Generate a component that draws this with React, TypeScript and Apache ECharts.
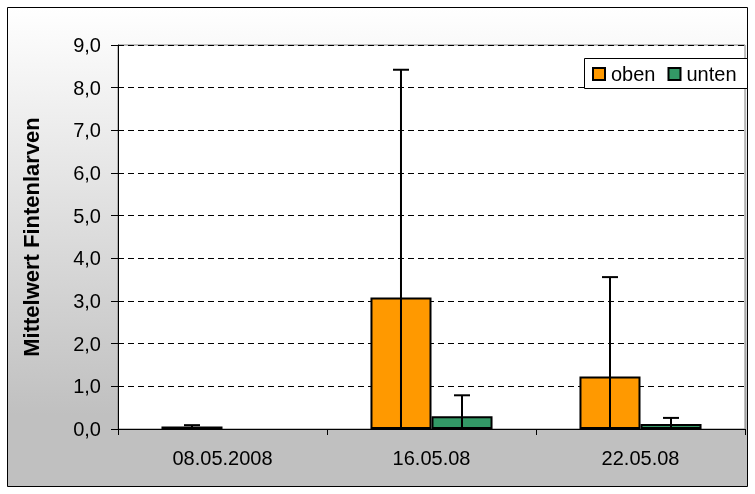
import React, { useEffect, useRef } from "react";
import * as echarts from "echarts";

const categories = ["08.05.2008", "16.05.08", "22.05.08"];
const seriesNames = ["oben", "unten"];
const obenMean = [0.06, 3.08, 1.23];
const obenErr = [0.03, 5.34, 2.33];
const untenMean = [0, 0.3, 0.12];
const untenErr = [0, 0.49, 0.14];
const yTicks = { min: 0, max: 9, interval: 1 };
const yTitle = "Mittelwert Fintenlarven";

const FONT = "'Liberation Sans', Arial, sans-serif";
const GAP = 0.416;

function errData(mean: number[], err: number[]) {
  return mean.map((m, i) => [i, m, err[i]]);
}

function barData(mean: number[]) {
  return mean.map((m) => (m > 0 ? m : null));
}

function makeErrRender(side: number) {
  return (params: any, api: any) => {
    const idx = api.value(0);
    const v = api.value(1);
    const e = api.value(2);
    if (!(e > 0)) return null;
    const band = api.size([1, 0])[0];
    const barW = (band * (1 - GAP)) / 2;
    const cx = api.coord([idx, v])[0] + (side * barW) / 2;
    const yTop = api.coord([idx, v + e])[1];
    const yBot = api.coord([idx, Math.max(0, v - e)])[1];
    const style = { stroke: "#000", lineWidth: 2 };
    return {
      type: "group",
      children: [
        { type: "line", shape: { x1: cx, y1: yTop, x2: cx, y2: yBot }, style },
        { type: "line", shape: { x1: cx - 8, y1: yTop, x2: cx + 8, y2: yTop }, style },
      ],
    };
  };
}

export default function App() {
  const ref = useRef<HTMLDivElement>(null);
  useEffect(() => {
    if (!ref.current) return;
    const chart = echarts.init(ref.current, undefined, { renderer: "svg" });
    chart.setOption({
      animation: false,
      textStyle: { fontFamily: FONT },
      graphic: [
        {
          type: "rect",
          z: -10,
          shape: { x: 7.5, y: 7.5, width: 740, height: 479 },
          style: {
            fill: new echarts.graphic.LinearGradient(0, 0, 0, 1, [
              { offset: 0, color: "#ffffff" },
              { offset: 0.85, color: "#c0c0c0" },
              { offset: 1, color: "#c0c0c0" },
            ]),
            stroke: "#000",
            lineWidth: 1,
          },
        },
        {
          type: "rect",
          z: 10,
          shape: { x: 584.5, y: 58.5, width: 163, height: 30 },
          style: { fill: "#fff", stroke: "#000", lineWidth: 1 },
        },
        {
          type: "text",
          z: 10,
          x: 31,
          y: 237,
          rotation: Math.PI / 2,
          style: {
            text: yTitle,
            fontFamily: FONT,
            fontWeight: "bold",
            fontSize: 22,
            fill: "#000",
            align: "center",
            verticalAlign: "middle",
          },
        },
      ],
      legend: {
        z: 20,
        left: 592,
        top: 64,
        padding: 0,
        itemWidth: 12,
        itemHeight: 12,
        itemGap: 12,
        icon: "rect",
        data: seriesNames,
        textStyle: { fontFamily: FONT, fontSize: 20, color: "#000", padding: [0, 0, 0, 1] },
        selectedMode: false,
      },
      grid: {
        left: 118,
        right: 10,
        top: 45,
        bottom: 65,
        show: true,
        backgroundColor: "#fff",
        borderColor: "#808080",
        borderWidth: 1,
      },
      xAxis: {
        type: "category",
        data: categories,
        boundaryGap: true,
        axisLine: { lineStyle: { color: "#000", width: 1 } },
        axisTick: { show: true, alignWithLabel: false, length: 6, lineStyle: { color: "#000" } },
        axisLabel: { fontFamily: FONT, fontSize: 20, color: "#000", margin: 19 },
        splitLine: { show: false },
      },
      yAxis: {
        type: "value",
        min: yTicks.min,
        max: yTicks.max,
        interval: yTicks.interval,
        axisLine: { show: true, lineStyle: { color: "#000", width: 1 } },
        axisTick: { show: true, length: 7, lineStyle: { color: "#000" } },
        axisLabel: {
          fontFamily: FONT,
          fontSize: 20,
          color: "#000",
          margin: 17,
          formatter: (v: number) => v.toFixed(1).replace(".", ","),
        },
        splitLine: { show: true, lineStyle: { color: "#000", type: [6, 4], width: 1 } },
      },
      series: [
        {
          name: seriesNames[0],
          type: "bar",
          data: barData(obenMean),
          barGap: "0%",
          barCategoryGap: GAP * 100 + "%",
          itemStyle: { color: "#FF9900", borderColor: "#000", borderWidth: 2 },
          z: 2,
        },
        {
          name: seriesNames[1],
          type: "bar",
          data: barData(untenMean),
          barGap: "0%",
          barCategoryGap: GAP * 100 + "%",
          itemStyle: { color: "#339966", borderColor: "#000", borderWidth: 2 },
          z: 2,
        },
        {
          type: "custom",
          renderItem: makeErrRender(-1),
          data: errData(obenMean, obenErr),
          encode: { x: 0, y: 1 },
          z: 5,
          silent: true,
        },
        {
          type: "custom",
          renderItem: makeErrRender(1),
          data: errData(untenMean, untenErr),
          encode: { x: 0, y: 1 },
          z: 5,
          silent: true,
        },
      ],
    });
    return () => chart.dispose();
  }, []);
  return (
    <div
      ref={ref}
      style={{ position: "fixed", left: 0, top: 0, width: 755, height: 494 }}
    />
  );
}
